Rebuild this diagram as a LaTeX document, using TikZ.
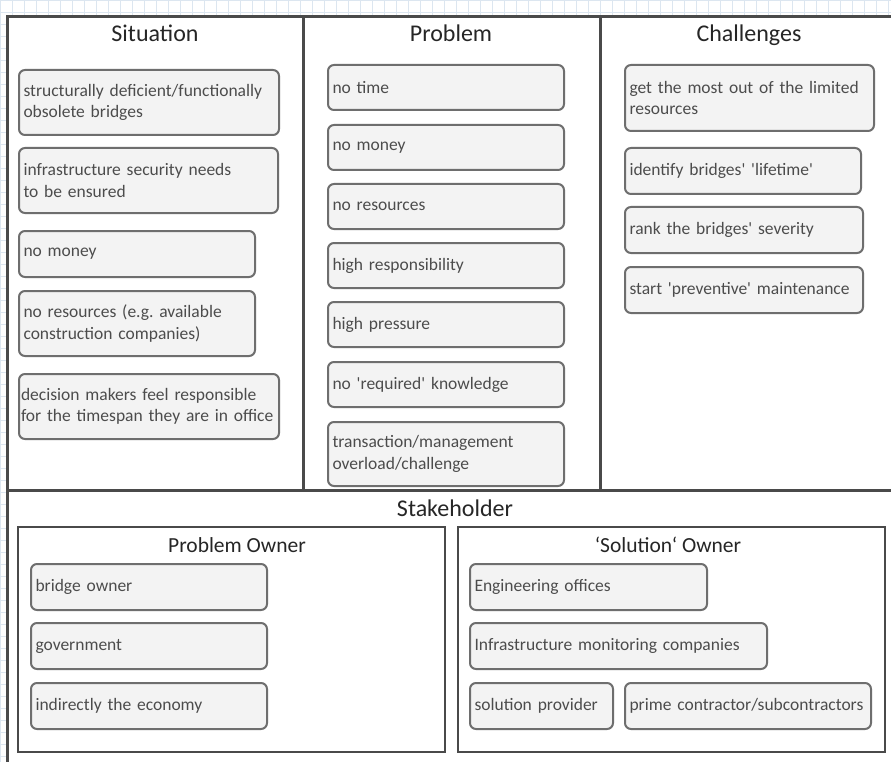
\documentclass[tikz,border=0pt]{standalone}
\usepackage{fontspec}
\setmainfont{Carlito}
\usepackage{xcolor}
\definecolor{gridblue}{HTML}{DCE6F0}
\definecolor{framegray}{HTML}{4A4A4A}
\definecolor{boxgray}{HTML}{6E6E6E}
\definecolor{boxfill}{HTML}{F3F3F3}
\definecolor{itemtext}{HTML}{4C4C4C}
\definecolor{titletext}{HTML}{262626}
\newcommand{\sq}{\textquotesingle}
\hyphenpenalty=10000
\frenchspacing

\tikzset{
	gridline/.style={gridblue, line width=0.8pt},
	frameline/.style={framegray, line width=3pt},
	ownerbox/.style={framegray, line width=2.4pt},
	heading/.style={text=titletext, font=\fontsize{24}{28}\selectfont, inner sep=0pt, text height=17pt, text depth=5pt},
	subheading/.style={text=titletext, font=\fontsize{21.5}{26}\selectfont, inner sep=0pt, text height=15pt, text depth=5pt},
	item/.style={draw=boxgray, fill=boxfill, line width=2pt, rounded corners=6pt,
		anchor=north west, align=left, inner xsep=4.5pt, inner ysep=2pt,
		text=itemtext, font=\fontsize{17.5}{21.5}\selectfont}
}

\begin{document}
\begin{tikzpicture}[x=1pt,y=-1pt]
			
			\useasboundingbox (0,0) rectangle (891,762);
			
			% canvas grid
			\foreach \gx in {0,12,...,888}
				\draw[gridline] (\gx,0) -- (\gx,762);
			\foreach \gy in {0,12,...,756}
				\draw[gridline] (0,\gy) -- (891,\gy);
			\fill[white] (7,17) rectangle (891,762);
			
			% frame
			\draw[frameline] (7,762) -- (7,17) -- (891,17);
			\draw[frameline] (7,490) -- (891,490);
			\draw[frameline] (303,17) -- (303,490);
			\draw[frameline] (600,17) -- (600,490);
			
			% headings
			\node[heading] (situation) at (155,36) {Situation};
			\node[heading] (problem) at (451,36) {Problem};
			\node[heading] (challenges) at (749,36) {Challenges};
			
			% situation
			\node[item, text width=251pt, minimum height=65pt] (sit1) at (18,69) {structurally deficient/functionally\\obsolete bridges};
			\node[item, text width=250pt, minimum height=65pt] (sit2) at (18,147) {infrastructure security needs\\to be ensured};
			\node[item, text width=227pt, minimum height=46pt] (sit3) at (18,230) {no money};
			\node[item, text width=227pt, minimum height=65pt] (sit4) at (18,290) {no resources (e.g. available\\construction companies)};
			\node[item, inner xsep=2pt, text width=256pt, minimum height=65pt] (sit5) at (18,373) {\mbox{decision makers feel responsible}\\\mbox{for the timespan they are in office}};
			
			% problem
			\node[item, text width=227pt, minimum height=45pt] (prob1) at (327,64) {no time};
			\node[item, text width=227pt, minimum height=45pt] (prob2) at (327,124) {no money};
			\node[item, text width=227pt, minimum height=45pt] (prob3) at (327,183) {no resources};
			\node[item, text width=227pt, minimum height=45pt] (prob4) at (327,242) {high responsibility};
			\node[item, text width=227pt, minimum height=45pt] (prob5) at (327,301) {high pressure};
			\node[item, text width=227pt, minimum height=45pt] (prob6) at (327,361) {no \sq required\sq{} knowledge};
			\node[item, text width=227pt, minimum height=64pt] (prob7) at (327,421) {transaction/management\\overload/challenge};
			
			% challenges
			\node[item, text width=240pt, minimum height=66pt] (chal1) at (624,64) {get the most out of the limited\\resources};
			\node[item, text width=227pt, minimum height=46pt] (chal2) at (624,147) {identify bridges\sq{} \sq lifetime\sq};
			\node[item, text width=229pt, minimum height=46pt] (chal3) at (624,206) {rank the bridges\sq{} severity};
			\node[item, text width=229pt, minimum height=46pt] (chal4) at (624,266) {start \sq preventive\sq{} maintenance};
			
			% stakeholder
			\node[heading] (stakeholder) at (455,510) {Stakeholder};
			\draw[ownerbox] (18,527) rectangle (445,752);
			\draw[ownerbox] (458,527) rectangle (885,752);
			\node[subheading] (probowner) at (237,547) {Problem Owner};
			\node[subheading] (solowner) at (668,547) {‘Solution‘ Owner};
			
			\node[item, text width=227pt, minimum height=46pt] (own1) at (30,563) {bridge owner};
			\node[item, text width=227pt, minimum height=46pt] (own2) at (30,622) {government};
			\node[item, text width=227pt, minimum height=46pt] (own3) at (30,682) {indirectly the economy};
			
			\node[item, text width=228pt, minimum height=46pt] (sol1) at (469,563) {Engineering offices};
			\node[item, text width=288pt, minimum height=46pt] (sol2) at (469,622) {Infrastructure monitoring companies};
			\node[item, text width=134pt, minimum height=46pt] (sol3) at (469,682) {solution provider};
			\node[item, text width=237pt, minimum height=46pt] (sol4) at (624,682) {prime contractor/subcontractors};
			
		\end{tikzpicture}
\end{document}
